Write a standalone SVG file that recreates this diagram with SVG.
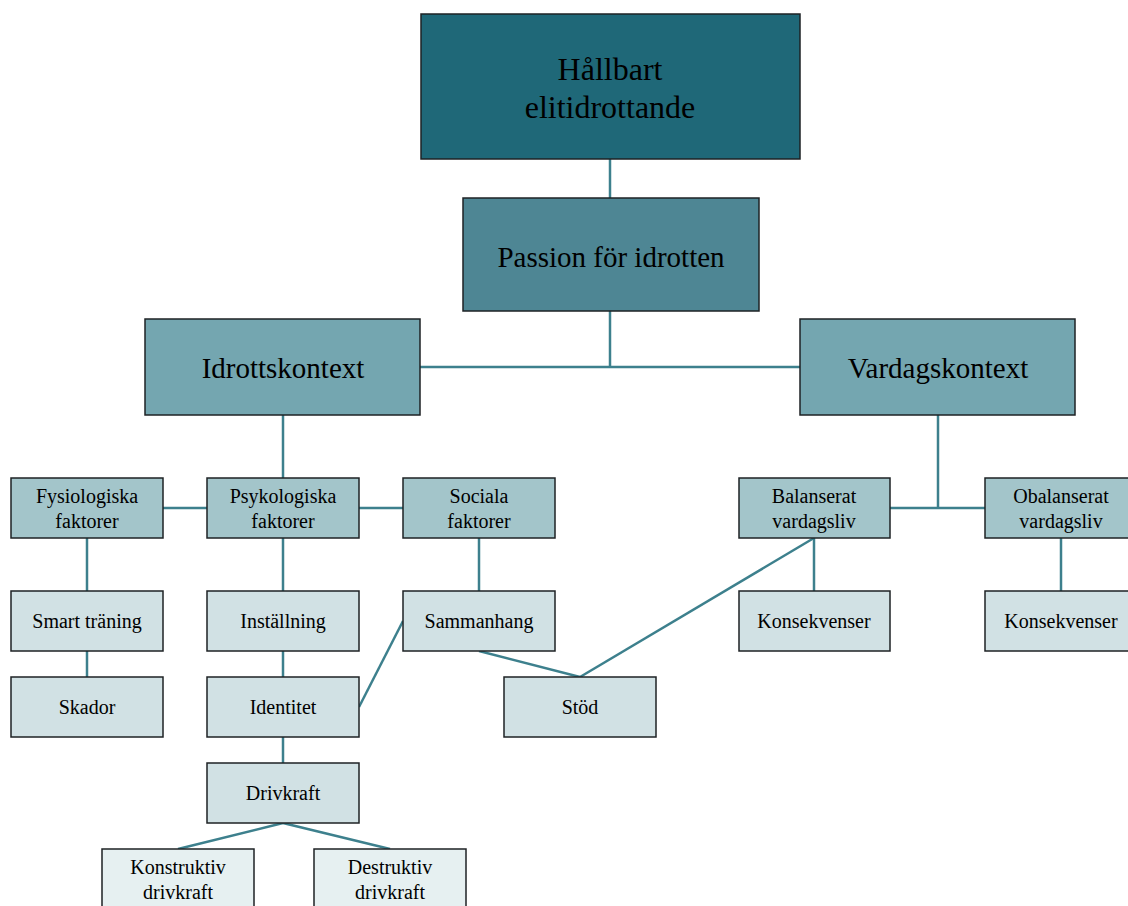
<svg xmlns="http://www.w3.org/2000/svg" width="1128" height="906" viewBox="0 0 1128 906">
<style>
rect{stroke:#1e2224;stroke-width:1.5}
.c1{fill:#1f6878}.c2{fill:#4e8694}.c3{fill:#74a6b0}.c4{fill:#a3c5ca}.c5{fill:#d1e1e4}.c6{fill:#e6f0f1}
text{font-family:"Liberation Serif","Times New Roman",serif;fill:#000;text-anchor:middle}
.t1{font-size:32px}.t2{font-size:29px}.t3{font-size:20px}
#connectors line{stroke:#3d808d;stroke-width:2.5}
</style>
<rect width="1128" height="906" fill="#fff" style="stroke:none"/>
<g id="connectors">
<line x1="610" y1="159" x2="610" y2="198"/>
<line x1="610" y1="311" x2="610" y2="367"/>
<line x1="420" y1="367" x2="800" y2="367"/>
<line x1="283" y1="415" x2="283" y2="478"/>
<line x1="938" y1="415" x2="938" y2="508"/>
<line x1="163" y1="508" x2="207" y2="508"/>
<line x1="359" y1="508" x2="403" y2="508"/>
<line x1="890" y1="508" x2="985" y2="508"/>
<line x1="87" y1="538" x2="87" y2="591"/>
<line x1="87" y1="651" x2="87" y2="677"/>
<line x1="283" y1="538" x2="283" y2="591"/>
<line x1="283" y1="651" x2="283" y2="677"/>
<line x1="283" y1="737" x2="283" y2="763"/>
<line x1="479" y1="538" x2="479" y2="591"/>
<line x1="814" y1="538" x2="814" y2="591"/>
<line x1="1061" y1="538" x2="1061" y2="591"/>
<line x1="479" y1="651" x2="580" y2="677"/>
<line x1="814" y1="538" x2="580" y2="677"/>
<line x1="359" y1="707" x2="403" y2="621"/>
<line x1="283" y1="823" x2="178" y2="849"/>
<line x1="283" y1="823" x2="390" y2="849"/>
</g>
<g id="n-hallbart"><rect class="c1" x="421" y="14" width="379" height="145"/><text class="t1" x="610" y="80">Hållbart</text><text class="t1" x="610" y="118">elitidrottande</text></g>
<g id="n-passion"><rect class="c2" x="463" y="198" width="296" height="113"/><text class="t2" x="611" y="267">Passion för idrotten</text></g>
<g id="n-idrott"><rect class="c3" x="145" y="319" width="275" height="96"/><text class="t2" x="283" y="378">Idrottskontext</text></g>
<g id="n-vardag"><rect class="c3" x="800" y="319" width="275" height="96"/><text class="t2" x="938" y="378">Vardagskontext</text></g>
<g id="n-fys"><rect class="c4" x="11" y="478" width="152" height="60"/><text class="t3" x="87" y="503">Fysiologiska</text><text class="t3" x="87" y="528">faktorer</text></g>
<g id="n-psyk"><rect class="c4" x="207" y="478" width="152" height="60"/><text class="t3" x="283" y="503">Psykologiska</text><text class="t3" x="283" y="528">faktorer</text></g>
<g id="n-soc"><rect class="c4" x="403" y="478" width="152" height="60"/><text class="t3" x="479" y="503">Sociala</text><text class="t3" x="479" y="528">faktorer</text></g>
<g id="n-bal"><rect class="c4" x="739" y="478" width="151" height="60"/><text class="t3" x="814" y="503">Balanserat</text><text class="t3" x="814" y="528">vardagsliv</text></g>
<g id="n-obal"><rect class="c4" x="985" y="478" width="152" height="60"/><text class="t3" x="1061" y="503">Obalanserat</text><text class="t3" x="1061" y="528">vardagsliv</text></g>
<g id="n-smart"><rect class="c5" x="11" y="591" width="152" height="60"/><text class="t3" x="87" y="628">Smart träning</text></g>
<g id="n-inst"><rect class="c5" x="207" y="591" width="152" height="60"/><text class="t3" x="283" y="628">Inställning</text></g>
<g id="n-samm"><rect class="c5" x="403" y="591" width="152" height="60"/><text class="t3" x="479" y="628">Sammanhang</text></g>
<g id="n-kons1"><rect class="c5" x="739" y="591" width="151" height="60"/><text class="t3" x="814" y="628">Konsekvenser</text></g>
<g id="n-kons2"><rect class="c5" x="985" y="591" width="152" height="60"/><text class="t3" x="1061" y="628">Konsekvenser</text></g>
<g id="n-skador"><rect class="c5" x="11" y="677" width="152" height="60"/><text class="t3" x="87" y="714">Skador</text></g>
<g id="n-ident"><rect class="c5" x="207" y="677" width="152" height="60"/><text class="t3" x="283" y="714">Identitet</text></g>
<g id="n-stod"><rect class="c5" x="504" y="677" width="152" height="60"/><text class="t3" x="580" y="714">Stöd</text></g>
<g id="n-driv"><rect class="c5" x="207" y="763" width="152" height="60"/><text class="t3" x="283" y="800">Drivkraft</text></g>
<g id="n-konstr"><rect class="c6" x="102" y="849" width="152" height="60"/><text class="t3" x="178" y="874">Konstruktiv</text><text class="t3" x="178" y="899">drivkraft</text></g>
<g id="n-destr"><rect class="c6" x="314" y="849" width="152" height="60"/><text class="t3" x="390" y="874">Destruktiv</text><text class="t3" x="390" y="899">drivkraft</text></g>
</svg>
